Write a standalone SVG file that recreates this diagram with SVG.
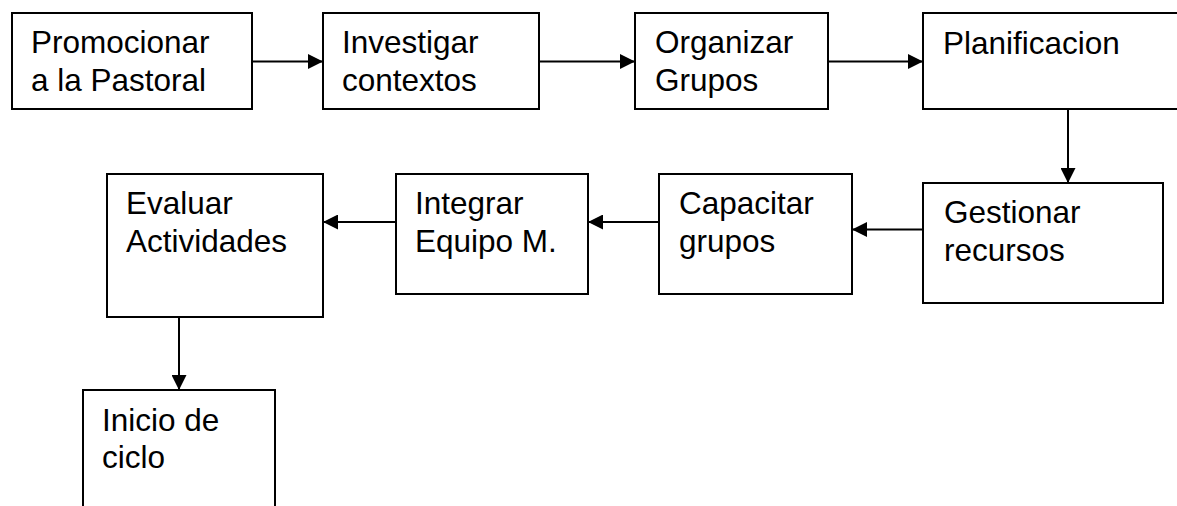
<svg xmlns="http://www.w3.org/2000/svg" width="1177" height="506" viewBox="0 0 1177 506">
<style>
.box{fill:#fff;stroke:#000;stroke-width:2}
.lbl{font-family:"Liberation Sans",Arial,sans-serif;font-size:31.5px;fill:#000}
.conn{stroke:#000;stroke-width:2;fill:none;marker-end:url(#ah)}
</style>
<defs>
<marker id="ah" markerUnits="userSpaceOnUse" markerWidth="15" markerHeight="15" refX="15" refY="7.5" orient="auto">
<path d="M0,0 L15,7.5 L0,15 z" fill="#000"/>
</marker>
</defs>
<rect width="1177" height="506" fill="#fff"/>
<g id="connectors">
<line class="conn" x1="252" y1="61.5" x2="323" y2="61.5"/>
<line class="conn" x1="539" y1="61.5" x2="635" y2="61.5"/>
<line class="conn" x1="828" y1="61.5" x2="923" y2="61.5"/>
<line class="conn" x1="1068" y1="109" x2="1068" y2="183"/>
<line class="conn" x1="923" y1="229.5" x2="852" y2="229.5"/>
<line class="conn" x1="659" y1="222" x2="588" y2="222"/>
<line class="conn" x1="396" y1="222" x2="323" y2="222"/>
<line class="conn" x1="179" y1="317" x2="179" y2="390"/>
</g>
<g id="n1">
<rect class="box" x="12" y="13" width="240" height="96"/>
<text class="lbl" x="31" y="53">Promocionar</text>
<text class="lbl" x="31" y="91">a la Pastoral</text>
</g>
<g id="n2">
<rect class="box" x="323" y="13" width="216" height="96"/>
<text class="lbl" x="342" y="53">Investigar</text>
<text class="lbl" x="342" y="91">contextos</text>
</g>
<g id="n3">
<rect class="box" x="635" y="13" width="193" height="96"/>
<text class="lbl" x="655" y="53">Organizar</text>
<text class="lbl" x="655" y="91">Grupos</text>
</g>
<g id="n4">
<rect class="box" x="923" y="13" width="270" height="96"/>
<text class="lbl" x="943" y="54">Planificacion</text>
</g>
<g id="n5">
<rect class="box" x="923" y="183" width="240" height="120"/>
<text class="lbl" x="944" y="223">Gestionar</text>
<text class="lbl" x="944" y="261">recursos</text>
</g>
<g id="n6">
<rect class="box" x="659" y="174" width="193" height="120"/>
<text class="lbl" x="679" y="214">Capacitar</text>
<text class="lbl" x="679" y="252">grupos</text>
</g>
<g id="n7">
<rect class="box" x="396" y="174" width="192" height="120"/>
<text class="lbl" x="415" y="214">Integrar</text>
<text class="lbl" x="415" y="252">Equipo M.</text>
</g>
<g id="n8">
<rect class="box" x="107" y="174" width="216" height="143"/>
<text class="lbl" x="126" y="214">Evaluar</text>
<text class="lbl" x="126" y="252">Actividades</text>
</g>
<g id="n9">
<rect class="box" x="83" y="390" width="192" height="140"/>
<text class="lbl" x="102" y="431">Inicio de</text>
<text class="lbl" x="102" y="468">ciclo</text>
</g>
</svg>
